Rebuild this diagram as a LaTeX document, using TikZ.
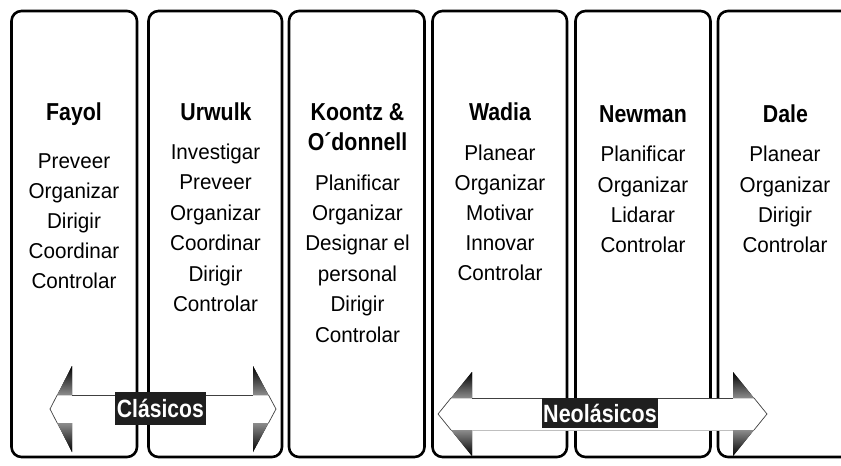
\documentclass[tikz,border=0pt]{standalone}
\usepackage{fontspec}
\setmainfont{Liberation Sans}
% narrow setting for headings and list entries
\newcommand\narrowtext[2][0.87]{\scalebox{#1}[1]{#2}}
\begin{document}
\begin{tikzpicture}[x=1pt,y=-1pt,
  panel/.style={draw=black, line width=2.6pt, rounded corners=10pt, inner sep=0pt},
  author/.style={font=\bfseries\fontsize{24.5}{28}\selectfont, anchor=base, inner sep=0pt},
  item/.style={font=\fontsize{21.5}{25}\selectfont, anchor=base, inner sep=0pt},
  tag/.style={fill=black!88, text=white, font=\bfseries\fontsize{25}{28}\selectfont, inner sep=0pt},
  rim/.style={draw=black!75, line width=0.7pt},
  faintrim/.style={draw=black!25, line width=0.5pt},
  upperbarb/.style={top color=black, bottom color=black!45, draw=none},
  lowerbarb/.style={top color=black!45, bottom color=black, draw=none}
]
\useasboundingbox (0,0) rectangle (841,466);
\fill[white] (0,0) rectangle (841,466);
\clip (0,0) rectangle (841,466);

% column frames
\node[panel, minimum width=125.5pt, minimum height=446pt] (p1) at (74.25,234) {};
\node[panel, minimum width=133.5pt, minimum height=446pt] (p2) at (215.25,234) {};
\node[panel, minimum width=135.5pt, minimum height=446pt] (p3) at (356.75,234) {};
\node[panel, minimum width=134.5pt, minimum height=446pt] (p4) at (499.75,234) {};
\node[panel, minimum width=135pt, minimum height=446pt] (p5) at (643,234) {};
\node[panel, minimum width=134pt, minimum height=446pt] (p6) at (785,234) {};

% Fayol
\node[author] (fayol) at (74,120) {\narrowtext{Fayol}};
\foreach \t [count=\i] in {Preveer,Organizar,Dirigir,Coordinar,Controlar}
  \node[item] (fayol-\i) at (74,138.8+30*\i) {\narrowtext[0.96]{\t}};

% Urwulk
\node[author] (urwulk) at (216,120) {\narrowtext{Urwulk}};
\foreach \t [count=\i] in {Investigar,Preveer,Organizar,Coordinar,Dirigir,Controlar}
  \node[item] (urwulk-\i) at (215.5,128.8+30.5*\i) {\narrowtext[0.96]{\t}};

% Koontz & O'donnell
\node[author] (koontz) at (357.5,120) {\narrowtext{Koontz \&}};
\node[author] (odonnell) at (357.5,150.5) {\narrowtext{O´donnell}};
\foreach \t [count=\i] in {Planificar,Organizar,Designar el,personal,Dirigir,Controlar}
  \node[item] (koontz-\i) at (357.5,159.6+30.4*\i) {\narrowtext[0.96]{\t}};

% Wadia
\node[author] (wadia) at (500,120) {\narrowtext{Wadia}};
\foreach \t [count=\i] in {Planear,Organizar,Motivar,Innovar,Controlar}
  \node[item] (wadia-\i) at (500,130.5+30*\i) {\narrowtext[0.96]{\t}};

% Newman
\node[author] (newman) at (643,122) {\narrowtext{Newman}};
\foreach \t [count=\i] in {Planificar,Organizar,Lidarar,Controlar}
  \node[item] (newman-\i) at (643,131.4+30.3*\i) {\narrowtext[0.96]{\t}};

% Dale
\node[author] (dale) at (785.5,122) {\narrowtext{Dale}};
\foreach \t [count=\i] in {Planear,Organizar,Dirigir,Controlar}
  \node[item] (dale-\i) at (785,131.4+30.3*\i) {\narrowtext[0.96]{\t}};

% double arrow: classical school
\fill[white] (50,409) -- (72,366) -- (72,395) -- (253,395) -- (253,366) -- (276,409)
  -- (253,452) -- (253,423) -- (72,423) -- (72,452) -- cycle;
\fill[upperbarb] (72,366) -- (72,395) -- (57.2,395) -- cycle;
\fill[lowerbarb] (72,452) -- (72,423) -- (57.2,423) -- cycle;
\fill[upperbarb] (253,366) -- (253,395) -- (268.5,395) -- cycle;
\fill[lowerbarb] (253,452) -- (253,423) -- (268.5,423) -- cycle;
\draw[rim] (72,395) -- (253,395);
\draw[rim] (57.2,395) -- (50,409) -- (57.2,423);
\draw[rim] (268.5,395) -- (276,409) -- (268.5,423);
\node[tag, minimum width=91pt, minimum height=33pt] (clasicos) at (160.4,408.4)
  {\narrowtext[0.845]{Clásicos}};

% double arrow: neoclassical school
\fill[white] (438,414) -- (472,372) -- (472,398) -- (733,398) -- (733,372) -- (767,414)
  -- (733,456) -- (733,430) -- (472,430) -- (472,456) -- cycle;
\fill[upperbarb] (472,372) -- (472,398) -- (451,398) -- cycle;
\fill[lowerbarb] (472,456) -- (472,430) -- (451,430) -- cycle;
\fill[upperbarb] (733,372) -- (733,398) -- (754,398) -- cycle;
\fill[lowerbarb] (733,456) -- (733,430) -- (754,430) -- cycle;
\draw[rim] (472,398) -- (733,398);
\draw[faintrim] (472,430) -- (733,430);
\draw[rim] (451,398) -- (438,414) -- (451,430);
\draw[rim] (754,398) -- (767,414) -- (754,430);
\node[tag, minimum width=116pt, minimum height=30pt] (neoclasicos) at (600,413)
  {\narrowtext[0.86]{Neolásicos}};
\end{tikzpicture}
\end{document}
